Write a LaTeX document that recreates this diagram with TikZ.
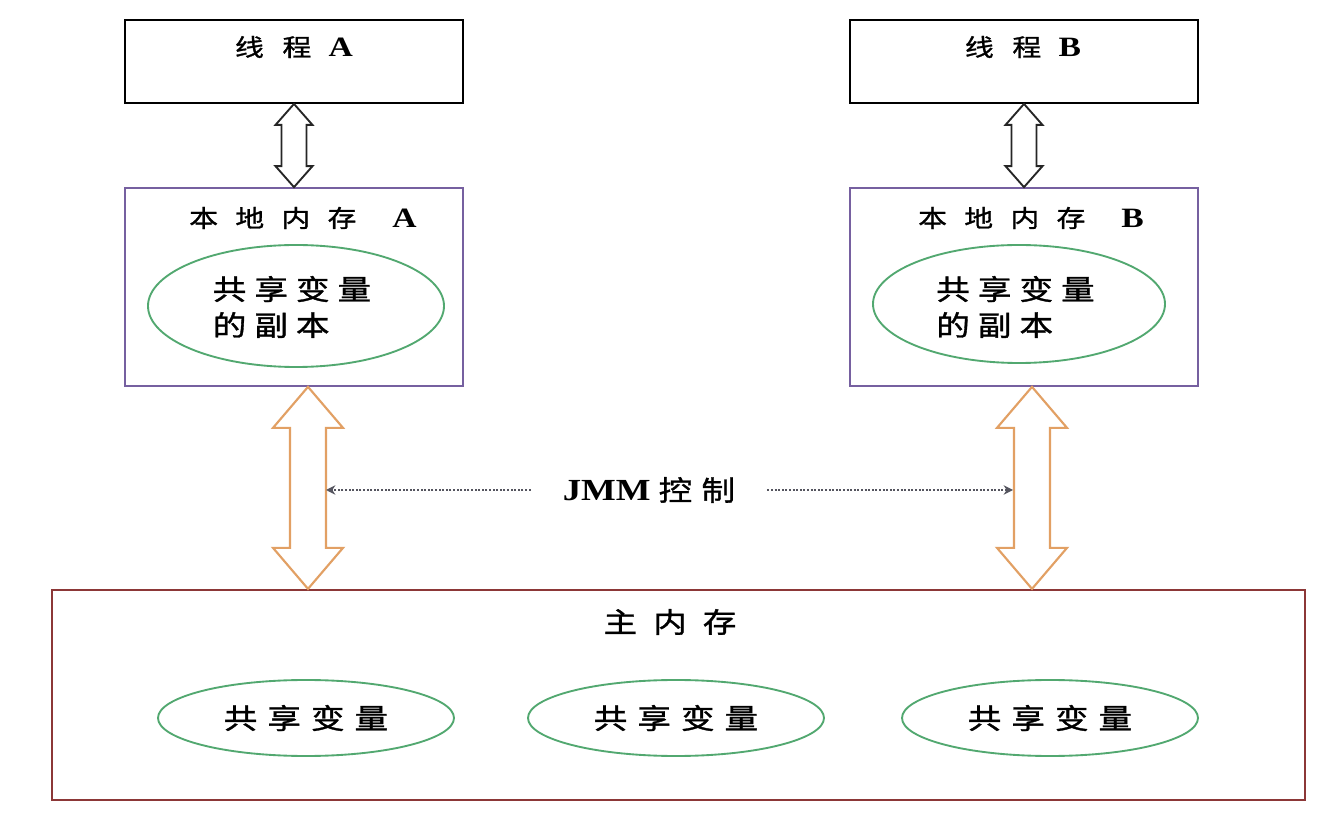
\documentclass[tikz,border=0pt]{standalone}
\usepackage{fontspec}
\setmainfont{Liberation Serif}[FakeStretch=1.2]
\newfontfamily\cjk[FakeStretch=1.2,FakeBold=1.2]{Noto Sans CJK SC}
\usetikzlibrary{calc,arrows.meta,shapes.geometric}
\definecolor{boxpurple}{RGB}{118,96,160}
\definecolor{vargreen}{RGB}{82,168,112}
\definecolor{mainred}{RGB}{140,55,55}
\definecolor{arrorange}{RGB}{226,160,100}
\definecolor{dotgray}{RGB}{85,85,95}
\newcommand\dblarrow[6]{%
  \draw[#1] (#2) -- ($(#2)+(#5,#6)$) -- ($(#2)+(#4,#6)$) -- ($(#3)+(#4,-#6)$)
    -- ($(#3)+(#5,-#6)$) -- (#3) -- ($(#3)+(-#5,-#6)$) -- ($(#3)+(-#4,-#6)$)
    -- ($(#2)+(-#4,#6)$) -- ($(#2)+(-#5,#6)$) -- cycle;}
\newcommand\hsz{\fontsize{18}{22}\selectfont}
\newcommand\vsz{\fontsize{21}{27}\selectfont}
\newcommand\lat{\fontsize{21}{26}\selectfont\bfseries}
\begin{document}
\begin{tikzpicture}[x=0.75pt,y=-0.75pt,
  threadbox/.style={draw=black,line width=1.4pt,minimum height=62.25pt,inner sep=0pt},
  localbox/.style={draw=boxpurple,line width=1.3pt,minimum height=148.5pt,inner sep=0pt},
  mainbox/.style={draw=mainred,line width=1.7pt,minimum width=939.75pt,minimum height=157.5pt,inner sep=0pt},
  varell/.style={draw=vargreen,line width=1.4pt,ellipse,inner sep=0pt},
  label/.style={inner sep=0pt},
  thinarrow/.style={draw=black!85,line width=1.4pt,fill=white,line join=miter},
  fatarrow/.style={draw=arrorange,line width=1.6pt,fill=white,line join=miter},
  jmmarrow/.style={draw=dotgray,line width=1.4pt,dash pattern=on 1.4pt off 1.3pt,-{Stealth[length=7pt,width=7pt]}}]
\path[use as bounding box,fill=white] (0,0) rectangle (1340,816);

% boxes
\node[threadbox,minimum width=253.5pt] (ta) at (294,61.5) {};
\node[threadbox,minimum width=261pt] (tb) at (1024,61.5) {};
\node[localbox,minimum width=253.5pt] (la) at (294,287) {};
\node[localbox,minimum width=261pt] (lb) at (1024,287) {};
\node[mainbox] (mm) at (678.5,695) {};

% titles
\node[label] (tat) at (294,47) {{\cjk\hsz 线\hspace{14pt}程}\hspace{13pt}{\lat A}};
\node[label] (tbt) at (1023,47) {{\cjk\hsz 线\hspace{14pt}程}\hspace{13pt}{\lat B}};
\node[label] (lat) at (303,218) {{\cjk\hsz 本\hspace{13pt}地\hspace{13pt}内\hspace{13pt}存}\hspace{27pt}{\lat A}};
\node[label] (lbt) at (1031,218) {{\cjk\hsz 本\hspace{13pt}地\hspace{13pt}内\hspace{13pt}存}\hspace{27pt}{\lat B}};
\node[label] (mmt) at (670,622) {\cjk\vsz 主\hspace{12pt}内\hspace{12pt}存};

% local copies
\node[varell,minimum width=222pt,minimum height=91.5pt] (ea) at (296,306) {};
\node[varell,minimum width=219pt,minimum height=88.5pt] (eb) at (1019,304) {};
\node[label,align=left,font=\cjk\vsz] (eat) at (292,307) {共\hspace{6pt}享\hspace{6pt}变\hspace{6pt}量\\的\hspace{6pt}副\hspace{6pt}本};
\node[label,align=left,font=\cjk\vsz] (ebt) at (1015.5,307) {共\hspace{6pt}享\hspace{6pt}变\hspace{6pt}量\\的\hspace{6pt}副\hspace{6pt}本};

% main shared variables
\foreach \n/\x in {m1/306,m2/676,m3/1050}{
  \node[varell,minimum width=222pt,minimum height=57pt] (\n) at (\x,718) {};
  \node[label,font=\cjk\vsz] (\n t) at (\x,718) {共\hspace{7.5pt}享\hspace{7.5pt}变\hspace{7.5pt}量};
}

% thread <-> local arrows
\dblarrow{thinarrow}{ta.south}{la.north}{12.5}{18.5}{21}
\dblarrow{thinarrow}{tb.south}{lb.north}{12.5}{18.5}{21}

% local <-> main arrows
\coordinate (oat) at ([xshift=10.5pt]la.south);
\coordinate (oab) at (oat |- mm.north);
\coordinate (obt) at ([xshift=6pt]lb.south);
\coordinate (obb) at (obt |- mm.north);
\dblarrow{fatarrow}{oat}{oab}{18}{35}{41}
\dblarrow{fatarrow}{obt}{obb}{18}{35}{41}

% JMM control
\node[inner ysep=0pt,inner xsep=24pt] (jmm) at (649,490) {{\fontsize{23}{28}\selectfont\bfseries JMM}\hspace{6pt}{\cjk\vsz 控\hspace{7pt}制}};
\coordinate (jl) at ($(oat)+(18,104)$);
\coordinate (jr) at ($(obt)+(-19,104)$);
\draw[jmmarrow] (jmm.west) -- (jl |- jmm.west);
\draw[jmmarrow] (jmm.east) -- (jr |- jmm.east);
\end{tikzpicture}
\end{document}
